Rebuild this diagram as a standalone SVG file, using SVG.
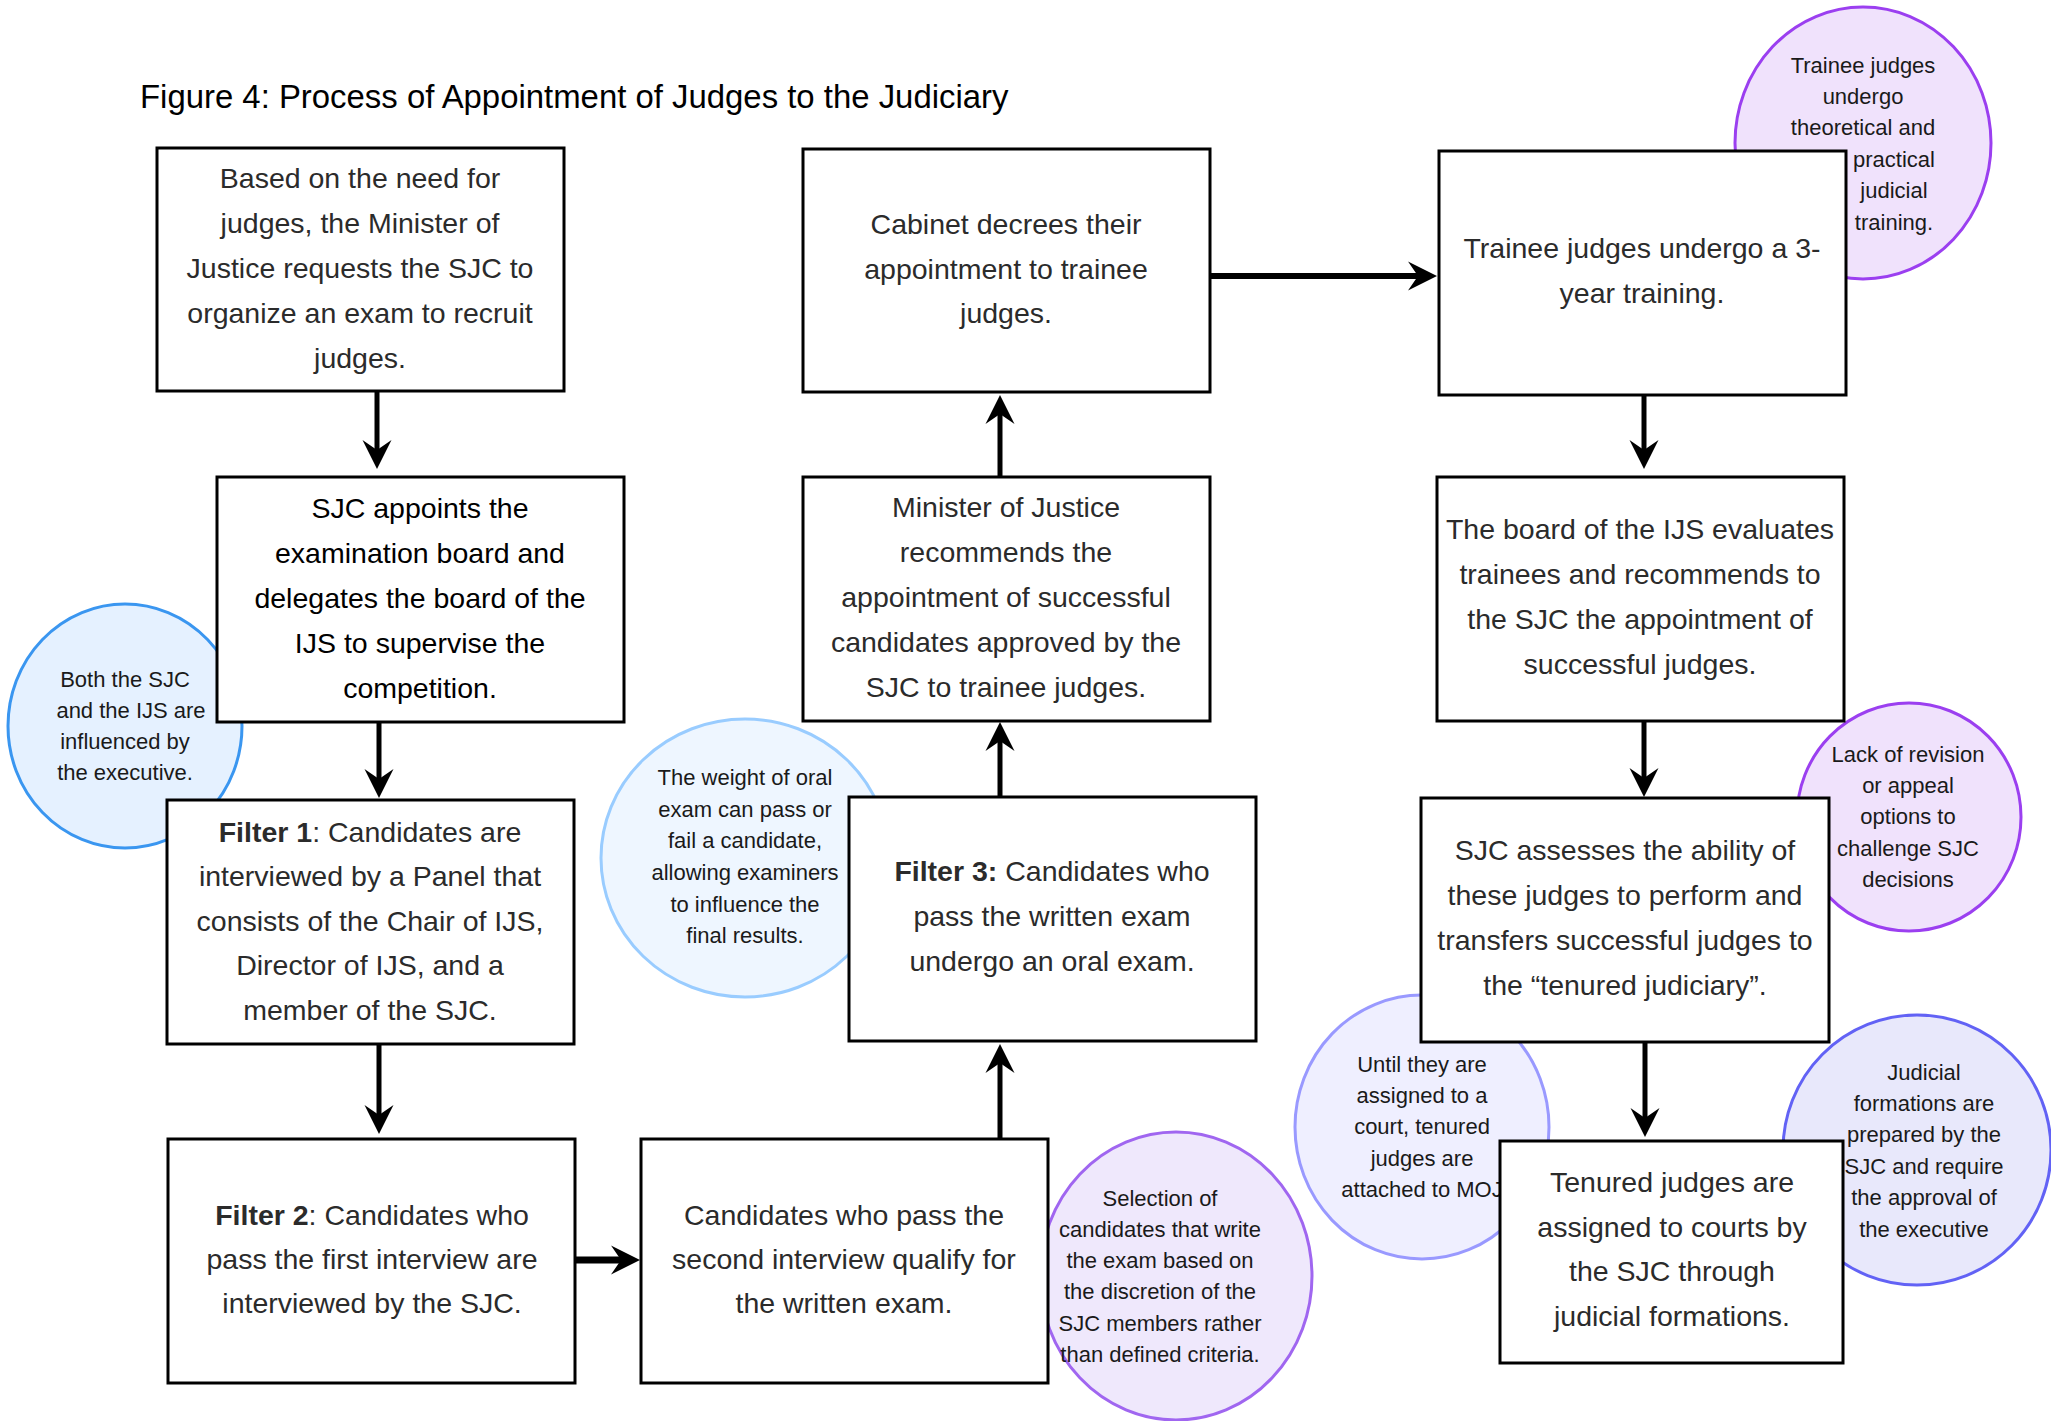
<svg xmlns="http://www.w3.org/2000/svg" width="2051" height="1421" viewBox="0 0 2051 1421">
<defs>
<style>
.box{fill:#fff;stroke:#000;stroke-width:3}
.bt{font-family:"Liberation Sans",Arial,sans-serif;font-size:28.5px;fill:#2b2b2b;text-anchor:middle}
.b{font-weight:bold}
.ct{font-family:"Liberation Sans",Arial,sans-serif;font-size:22px;fill:#1a1a1a;text-anchor:middle}
.title{font-family:"Liberation Sans",Arial,sans-serif;font-size:32.9px;fill:#000}
.arr{fill:none;stroke:#000;stroke-width:5}
.c-blue{fill:#e5f1ff;stroke:#3a96f0;stroke-width:3}
.c-lblue{fill:#eef6ff;stroke:#99ccff;stroke-width:3}
.c-purple{fill:#f0e2fc;stroke:#9b3ff0;stroke-width:3}
.c-lpurple{fill:#efe8fc;stroke:#a066f0;stroke-width:3}
.c-lav{fill:#efefff;stroke:#9999ff;stroke-width:3}
.c-bp{fill:#e8e8fb;stroke:#6262f5;stroke-width:3}
</style>
<marker id="ah" markerUnits="userSpaceOnUse" markerWidth="40" markerHeight="40" viewBox="-20 -20 40 40" refX="0" refY="0" orient="auto" overflow="visible">
<path d="M15,0 L-14,-14.5 L-4,0 L-14,14.5 Z" fill="#000"/>
</marker>
</defs>
<rect width="2051" height="1421" fill="#fff"/>
<text class="title" x="140" y="108">Figure 4: Process of Appointment of Judges to the Judiciary</text>

<g id="notes">
<g id="note-executive"><ellipse class="c-blue" cx="125" cy="726" rx="117" ry="122"/>
<text class="ct"><tspan x="125" y="687">Both the SJC</tspan><tspan x="131" y="718">and the IJS are</tspan><tspan x="125" y="749">influenced by</tspan><tspan x="125" y="780">the executive.</tspan></text></g>
<g id="note-oral"><ellipse class="c-lblue" cx="745" cy="858" rx="144" ry="139"/>
<text class="ct"><tspan x="745" y="785">The weight of oral</tspan><tspan x="745" y="817">exam can pass or</tspan><tspan x="745" y="848">fail a candidate,</tspan><tspan x="745" y="880">allowing examiners</tspan><tspan x="745" y="912">to influence the</tspan><tspan x="745" y="943">final results.</tspan></text></g>
<g id="note-selection"><ellipse class="c-lpurple" cx="1176" cy="1276" rx="136" ry="144"/>
<text class="ct"><tspan x="1160" y="1206">Selection of</tspan><tspan x="1160" y="1237">candidates that write</tspan><tspan x="1160" y="1268">the exam based on</tspan><tspan x="1160" y="1299">the discretion of the</tspan><tspan x="1160" y="1331">SJC members rather</tspan><tspan x="1160" y="1362">than defined criteria.</tspan></text></g>
<g id="note-training"><ellipse class="c-purple" cx="1863" cy="143" rx="128" ry="136"/>
<text class="ct"><tspan x="1863" y="73">Trainee judges</tspan><tspan x="1863" y="104">undergo</tspan><tspan x="1863" y="135">theoretical and</tspan><tspan x="1894" y="167">practical</tspan><tspan x="1894" y="198">judicial</tspan><tspan x="1894" y="230">training.</tspan></text></g>
<g id="note-appeal"><ellipse class="c-purple" cx="1909" cy="817" rx="112" ry="114"/>
<text class="ct"><tspan x="1908" y="762">Lack of revision</tspan><tspan x="1908" y="793">or appeal</tspan><tspan x="1908" y="824">options to</tspan><tspan x="1908" y="856">challenge SJC</tspan><tspan x="1908" y="887">decisions</tspan></text></g>
<g id="note-moj"><ellipse class="c-lav" cx="1422" cy="1127" rx="127" ry="132"/>
<text class="ct"><tspan x="1422" y="1072">Until they are</tspan><tspan x="1422" y="1103">assigned to a</tspan><tspan x="1422" y="1134">court, tenured</tspan><tspan x="1422" y="1166">judges are</tspan><tspan x="1422" y="1197">attached to MOJ</tspan></text></g>
<g id="note-formations"><ellipse class="c-bp" cx="1917" cy="1150" rx="134" ry="135"/>
<text class="ct"><tspan x="1924" y="1080">Judicial</tspan><tspan x="1924" y="1111">formations are</tspan><tspan x="1924" y="1142">prepared by the</tspan><tspan x="1924" y="1174">SJC and require</tspan><tspan x="1924" y="1205">the approval of</tspan><tspan x="1924" y="1237">the executive</tspan></text></g>
</g>

<g id="connectors">
<path class="arr" d="M377,391 V454" marker-end="url(#ah)"/>
<path class="arr" d="M379,722 V783" marker-end="url(#ah)"/>
<path class="arr" d="M379,1044 V1119" marker-end="url(#ah)"/>
<path class="arr" d="M576,1260 H625" style="stroke-width:7" marker-end="url(#ah)"/>
<path class="arr" d="M1000,1139 V1059" marker-end="url(#ah)"/>
<path class="arr" d="M1000,797 V737" marker-end="url(#ah)"/>
<path class="arr" d="M1000,477 V410" marker-end="url(#ah)"/>
<path class="arr" d="M1210,276 H1422" style="stroke-width:6" marker-end="url(#ah)"/>
<path class="arr" d="M1644,394 V454" marker-end="url(#ah)"/>
<path class="arr" d="M1644,721 V782" marker-end="url(#ah)"/>
<path class="arr" d="M1645,1041 V1122" marker-end="url(#ah)"/>
</g>

<g id="node-request"><rect class="box" x="157" y="148" width="407" height="243"/>
<text class="bt"><tspan x="360" y="188">Based on the need for</tspan><tspan x="360" y="233">judges, the Minister of</tspan><tspan x="360" y="278">Justice requests the SJC to</tspan><tspan x="360" y="323">organize an exam to recruit</tspan><tspan x="360" y="368">judges.</tspan></text></g>

<g id="node-board"><rect class="box" x="217" y="477" width="407" height="245"/>
<text class="bt" style="fill:#000"><tspan x="420" y="518">SJC appoints the</tspan><tspan x="420" y="563">examination board and</tspan><tspan x="420" y="608">delegates the board of the</tspan><tspan x="420" y="653">IJS to supervise the</tspan><tspan x="420" y="698">competition.</tspan></text></g>

<g id="node-filter1"><rect class="box" x="167" y="800" width="407" height="244"/>
<text class="bt"><tspan x="370" y="842"><tspan class="b">Filter 1</tspan>: Candidates are</tspan><tspan x="370" y="886">interviewed by a Panel that</tspan><tspan x="370" y="931">consists of the Chair of IJS,</tspan><tspan x="370" y="975">Director of IJS, and a</tspan><tspan x="370" y="1020">member of the SJC.</tspan></text></g>

<g id="node-filter2"><rect class="box" x="168" y="1139" width="407" height="244"/>
<text class="bt"><tspan x="372" y="1225"><tspan class="b">Filter 2</tspan>: Candidates who</tspan><tspan x="372" y="1269">pass the first interview are</tspan><tspan x="372" y="1313">interviewed by the SJC.</tspan></text></g>

<g id="node-written"><rect class="box" x="641" y="1139" width="407" height="244"/>
<text class="bt"><tspan x="844" y="1225">Candidates who pass the</tspan><tspan x="844" y="1269">second interview qualify for</tspan><tspan x="844" y="1313">the written exam.</tspan></text></g>

<g id="node-filter3"><rect class="box" x="849" y="797" width="407" height="244"/>
<text class="bt"><tspan x="1052" y="881"><tspan class="b">Filter 3:</tspan> Candidates who</tspan><tspan x="1052" y="926">pass the written exam</tspan><tspan x="1052" y="971">undergo an oral exam.</tspan></text></g>

<g id="node-minister"><rect class="box" x="803" y="477" width="407" height="244"/>
<text class="bt"><tspan x="1006" y="517">Minister of Justice</tspan><tspan x="1006" y="562">recommends the</tspan><tspan x="1006" y="607">appointment of successful</tspan><tspan x="1006" y="652">candidates approved by the</tspan><tspan x="1006" y="697">SJC to trainee judges.</tspan></text></g>

<g id="node-cabinet"><rect class="box" x="803" y="149" width="407" height="243"/>
<text class="bt"><tspan x="1006" y="234">Cabinet decrees their</tspan><tspan x="1006" y="279">appointment to trainee</tspan><tspan x="1006" y="323">judges.</tspan></text></g>

<g id="node-training"><rect class="box" x="1439" y="151" width="407" height="244"/>
<text class="bt"><tspan x="1642" y="258">Trainee judges undergo a 3-</tspan><tspan x="1642" y="303">year training.</tspan></text></g>

<g id="node-evaluate"><rect class="box" x="1437" y="477" width="407" height="244"/>
<text class="bt"><tspan x="1640" y="539">The board of the IJS evaluates</tspan><tspan x="1640" y="584">trainees and recommends to</tspan><tspan x="1640" y="629">the SJC the appointment of</tspan><tspan x="1640" y="674">successful judges.</tspan></text></g>

<g id="node-assess"><rect class="box" x="1421" y="798" width="408" height="244"/>
<text class="bt"><tspan x="1625" y="860">SJC assesses the ability of</tspan><tspan x="1625" y="905">these judges to perform and</tspan><tspan x="1625" y="950">transfers successful judges to</tspan><tspan x="1625" y="995">the “tenured judiciary”.</tspan></text></g>

<g id="node-tenured"><rect class="box" x="1500" y="1141" width="343" height="222"/>
<text class="bt"><tspan x="1672" y="1192">Tenured judges are</tspan><tspan x="1672" y="1237">assigned to courts by</tspan><tspan x="1672" y="1281">the SJC through</tspan><tspan x="1672" y="1326">judicial formations.</tspan></text></g>
</svg>
